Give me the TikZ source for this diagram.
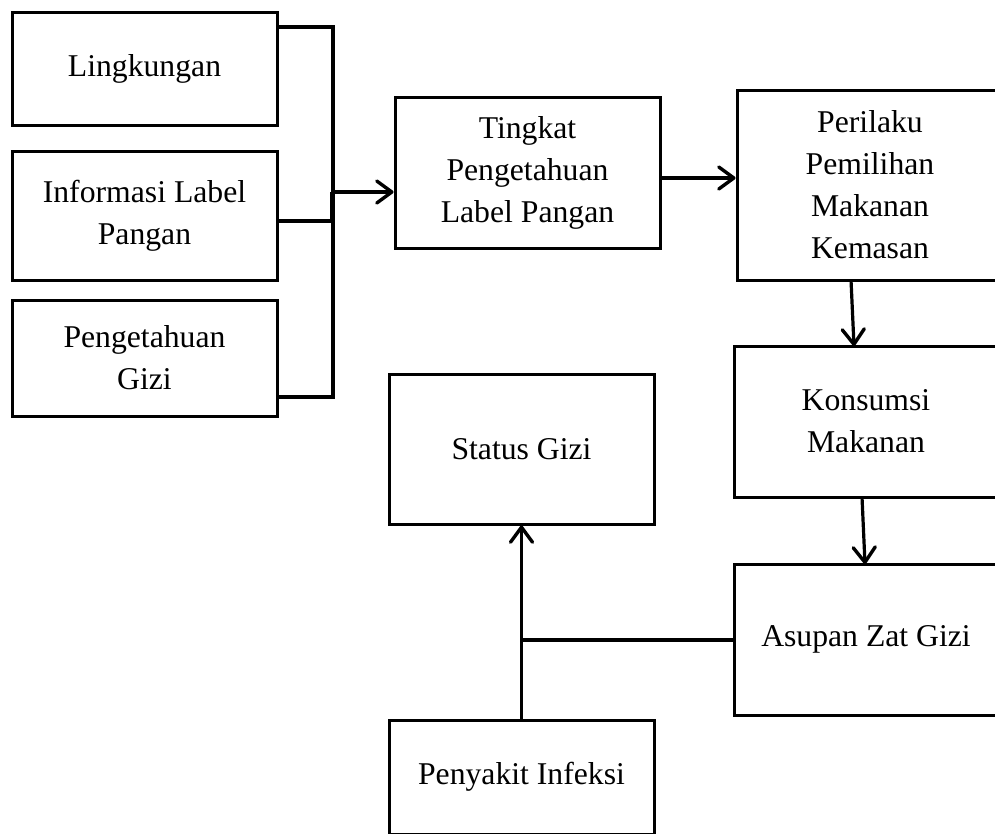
\documentclass[tikz,border=0pt]{standalone}
\usepackage{fontspec}
\setmainfont{Liberation Serif}
\usetikzlibrary{arrows.meta}
\begin{document}
\begin{tikzpicture}[x=1pt,y=-1pt,
  box/.style={draw=black, line width=3pt, rectangle, align=center, inner sep=0pt,
    font=\fontsize{31.7}{42}\selectfont, line join=miter},
  conn/.style={draw=black, line width=3.2pt},
  arr/.style={conn, -{Straight Barb[length=15pt,width=22pt,line width=3.4pt,round]}}
]
\useasboundingbox (0,0) rectangle (995,833);
\clip (0,0) rectangle (995,833);
\fill[white] (0,0) rectangle (995,833);

\node[box, minimum width=265pt, minimum height=113pt] (ling) at (144.5,68.5) {Lingkungan};
\node[box, minimum width=265pt, minimum height=129pt] (info) at (144.5,215.5) {Informasi Label\\Pangan};
\node[box, minimum width=265pt, minimum height=116pt] (peng) at (144.5,358) {Pengetahuan\\Gizi};
\node[box, minimum width=265pt, minimum height=151pt] (ting) at (527.5,172.5) {Tingkat\\Pengetahuan\\Label Pangan};
\node[box, minimum width=266pt, minimum height=190pt] (peri) at (870,185) {Perilaku\\Pemilihan\\Makanan\\Kemasan};
\node[box, minimum width=264pt, minimum height=151pt] (kons) at (866,421.5) {Konsumsi\\Makanan};
\node[box, minimum width=264pt, minimum height=151pt] (asup) at (866,639.5) {Asupan Zat Gizi};
\node[box, minimum width=265pt, minimum height=150pt] (stat) at (521.5,449) {Status Gizi};
\node[box, minimum width=265pt, minimum height=114pt] (peny) at (521.5,777) {Penyakit Infeksi};

% junction of the three input boxes
\coordinate (jtop) at (333,27);
\coordinate (jbot) at (333,397);
\coordinate (jarr) at (333,192);
\coordinate (jinf) at (333,221);
\draw[conn, line join=miter] (ling.east |- jtop) -- (jtop) -- (jbot) -- (jbot -| peng.east);
\draw[conn] (info.east |- jinf) -- (jinf);
\draw[draw=black, line width=4.6pt] ([xshift=-0.6pt]jarr) -- ([xshift=-0.6pt]jinf);
\draw[arr] (jarr) -- (jarr -| ting.west);

% main chain
\coordinate (t1) at (660,178);
\draw[arr] (t1) -- (t1 -| peri.west);
\draw[arr] (851,280) -- (854,346);
\draw[arr] (862,497) -- (865,564);

% to status gizi
\coordinate (jm) at (522,640);
\draw[conn] (asup.west |- jm) -- (jm);
\draw[arr] (peny.north) -- (stat.south);
\end{tikzpicture}
\end{document}
